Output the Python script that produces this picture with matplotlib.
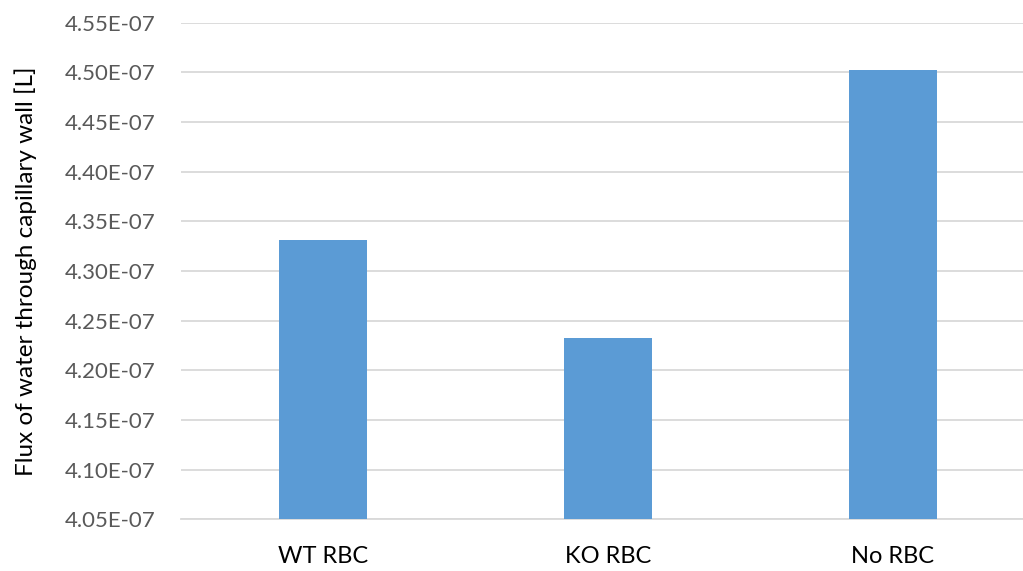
import matplotlib.pyplot as plt
import numpy as np

# flux values per condition
conditions = ['WT RBC', 'KO RBC', 'No RBC']
flux = [4.3312e-07, 4.2322e-07, 4.5024e-07]
y_ticks = [4.05e-07, 4.10e-07, 4.15e-07, 4.20e-07, 4.25e-07,
           4.30e-07, 4.35e-07, 4.40e-07, 4.45e-07, 4.50e-07, 4.55e-07]

plt.rcParams['font.family'] = ['Lato', 'DejaVu Sans']

fig = plt.figure(figsize=(10.23, 5.71), dpi=100)
W, H = 1023, 571
left, right = 180.5, 1035.5
top, bottom = 22.7, 519.3
ax = fig.add_axes([left / W, 1 - bottom / H, (right - left) / W, (bottom - top) / H])

x = np.arange(len(conditions))
ax.bar(x, flux, width=0.31, color='#5B9BD5', zorder=3)

ax.set_xlim(-0.5, len(conditions) - 0.5)
ax.set_ylim(y_ticks[0], y_ticks[-1])
ax.set_yticks(y_ticks)
ax.set_yticklabels(['%.2fE-07' % (v * 1e7) for v in y_ticks], fontsize=16, color='#595959')
ax.set_xticks(x)
ax.set_xticklabels(conditions, fontsize=17, color='black')

ax.grid(axis='y', color='#D9D9D9', linewidth=1.3, zorder=0)
for s in ['top', 'right', 'left']:
    ax.spines[s].set_visible(False)
ax.spines['bottom'].set_color('#D9D9D9')
ax.spines['bottom'].set_linewidth(1.3)
ax.tick_params(axis='both', length=0)
ax.tick_params(axis='y', pad=18)
ax.tick_params(axis='x', pad=19)

ax.set_ylabel('Flux of water through capillary wall [L]', fontsize=17.5, color='black', labelpad=20)

fig.savefig('out.png', dpi=100)
